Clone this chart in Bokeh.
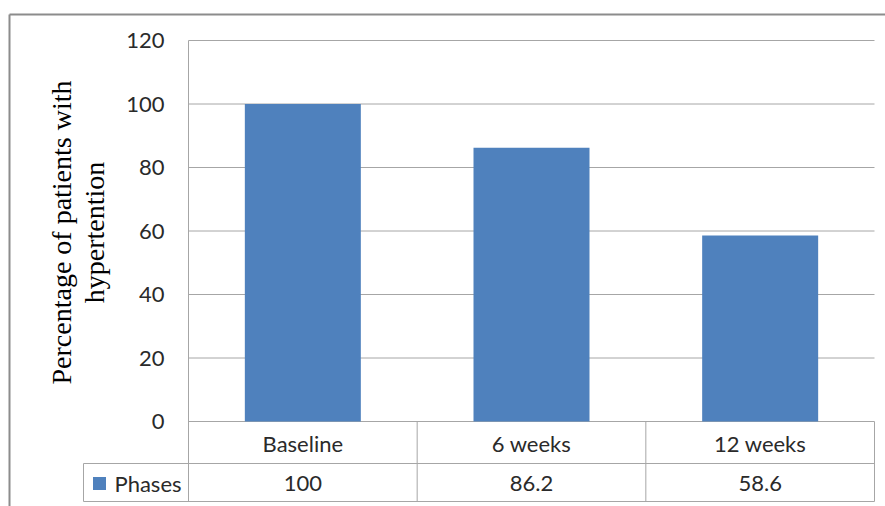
import math
from bokeh.plotting import figure
from bokeh.models import Range1d
from bokeh.core.properties import value
from bokeh.embed import file_html
from bokeh.resources import INLINE

# ---- data ----
categories = ["Baseline", "6 weeks", "12 weeks"]
phases = [100, 86.2, 58.6]
series_name = "Phases"
y_ticks = [0, 20, 40, 60, 80, 100, 120]
y_title_lines = ["Percentage of patients with", "hypertention"]

# ---- layout (pixels) ----
W, H = 885, 506
L, R = 188, 874          # plot area left/right
T, Z = 40, 421           # y=120 and y=0 rows
ROW1_B, ROW2_B = 463, 501
LEG_L = 83
YMAX = 120

ux = (R - L) / len(categories)      # px per category
uy = (Z - T) / YMAX                 # px per y unit

def dx(px):
    return (px - L) / ux

def dy(py):
    return (Z - py) / uy

p = figure(width=W, height=H, output_backend="svg", toolbar_location=None,
           x_range=Range1d(dx(0), dx(W)), y_range=Range1d(dy(H), dy(0)),
           min_border=0)
p.axis.visible = False
p.grid.visible = False
p.outline_line_color = None
p.background_fill_color = "white"
p.border_fill_color = "white"

grid_col = "#a6a6a6"
text_col = "#2a2a2a"
sans = value("Lato")
fs = "22px"

# outer chart border (top and left edges visible)
p.segment(x0=[dx(9), dx(9)], y0=[dy(14), dy(14)], x1=[dx(W + 5), dx(9)], y1=[dy(14), dy(H + 5)],
          line_color="#8c8c8c", line_width=2)

# horizontal gridlines
p.segment(x0=[0] * len(y_ticks), x1=[len(categories)] * len(y_ticks), y0=y_ticks, y1=y_ticks,
          line_color=grid_col, line_width=1)

# bars
xc = [i + 0.5 for i in range(len(categories))]
p.vbar(x=xc, top=phases, bottom=0, width=116 / ux, fill_color="#4F81BD", line_color=None)

# value axis line (continues as table left border)
p.segment(x0=[0], x1=[0], y0=[YMAX], y1=[dy(ROW2_B)], line_color=grid_col, line_width=1)

# data table lines
n = len(categories)
hx0 = [dx(LEG_L), dx(LEG_L)]
hx1 = [n, n]
hy = [dy(ROW1_B), dy(ROW2_B)]
p.segment(x0=hx0, x1=hx1, y0=hy, y1=hy, line_color=grid_col, line_width=1)
vx = [i for i in range(1, n + 1)]
p.segment(x0=vx, x1=vx, y0=[0] * n, y1=[dy(ROW2_B)] * n, line_color=grid_col, line_width=1)
p.segment(x0=[dx(LEG_L)], x1=[dx(LEG_L)], y0=[dy(ROW1_B)], y1=[dy(ROW2_B)],
          line_color=grid_col, line_width=1)

# tick labels
p.text(x=[dx(164)] * len(y_ticks), y=y_ticks, text=[str(t) for t in y_ticks],
       text_align="right", text_baseline="middle", text_font=sans,
       text_font_size=fs, text_color=text_col)

# category row
r1 = dy((Z + ROW1_B) / 2 + 1)
p.text(x=xc, y=[r1] * n, text=categories, text_align="center", text_baseline="middle",
       text_font=sans, text_font_size=fs, text_color=text_col)

# values row
r2 = dy((ROW1_B + ROW2_B) / 2 + 1)
p.text(x=xc, y=[r2] * n, text=[f"{v:g}" for v in phases], text_align="center",
       text_baseline="middle", text_font=sans, text_font_size=fs, text_color=text_col)

# legend key + series name
p.scatter(x=[dx(99)], y=[r2], marker="square", size=13, fill_color="#4F81BD", line_color=None)
p.text(x=[dx(114)], y=[r2], text=[series_name], text_align="left", text_baseline="middle",
       text_font=sans, text_font_size=fs, text_color=text_col)

# y title (two rotated lines)
yc = dy(232)
p.text(x=[dx(61), dx(94)], y=[yc, yc], text=y_title_lines, angle=math.pi / 2,
       text_align="center", text_baseline="middle", text_font=value("Liberation Serif"),
       text_font_size="28px", text_color="#000000")

open("out.html", "w").write(file_html(p, INLINE))
